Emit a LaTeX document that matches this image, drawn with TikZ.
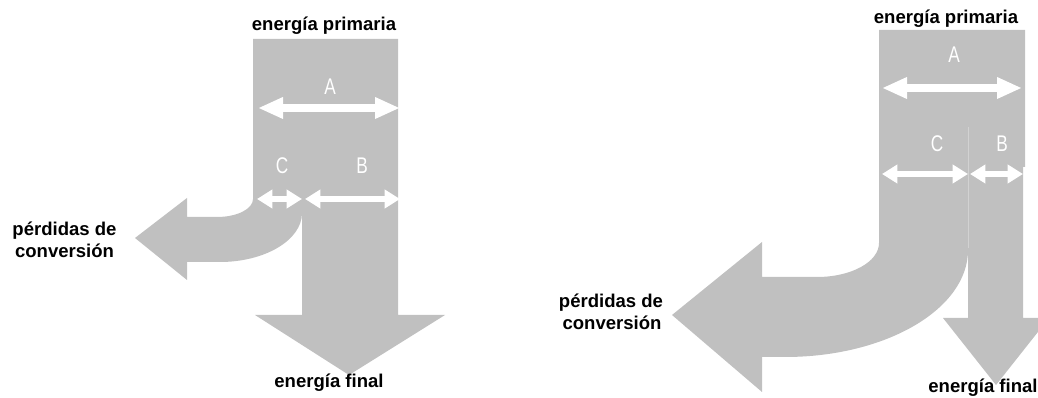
\documentclass[tikz,border=0pt]{standalone}
\usepackage{fontspec}
\usepackage{graphicx}
\setmainfont{Liberation Sans}
\usetikzlibrary{arrows.meta}
\definecolor{flow}{RGB}{192,192,192}
\definecolor{seam}{RGB}{210,210,210}
\begin{document}
\begin{tikzpicture}[x=0.75pt,y=-0.75pt,
  lbl/.style={font=\fontsize{13.9pt}{16pt}\selectfont\bfseries, inner sep=0pt, anchor=base},
  letter/.style={text=white, font=\fontsize{17pt}{20pt}\selectfont, inner sep=0pt},
  bigdbl/.style={draw=white, line width=6pt, {Triangle[length=18.75pt,width=15pt]}-{Triangle[length=18.75pt,width=15pt]}},
  smalldbl/.style={draw=white, line width=4.8pt, {Triangle[length=11.5pt,width=13.5pt]}-{Triangle[length=11.5pt,width=13.5pt]}},
]
\useasboundingbox (0,0) rectangle (1038,398);
\clip (0,0) rectangle (1038,398);

% ---------- left diagram ----------
\fill[flow] (253,39) -- (398,39) -- (398,315) -- (445,315) -- (349,375) -- (255,315) -- (302,315) -- (302,213)
  .. controls (302,240) and (265,262) .. (220,262) -- (187,262) -- (187,280) -- (135,238) -- (187,198) -- (187,217)
  -- (217,217) .. controls (237,217) and (253,209) .. (253,199) -- cycle;

\node[lbl] (ep1) at (324,30.5) {energía primaria};
\node[lbl] (ef1) at (329,388) {energía final};
\node[lbl] (pa1) at (64.5,236) {pérdidas de};
\node[lbl] (pb1) at (64.5,257.5) {conversión};

\node[letter] (A1) at (330,87) {\scalebox{0.76}[1]{A}};
\node[letter] (C1) at (282,166) {\scalebox{0.76}[1]{C}};
\node[letter] (B1) at (362,166) {\scalebox{0.76}[1]{B}};

\coordinate (a1l) at (258,108);
\coordinate (a1r) at (400,108);
\coordinate (c1l) at (257,199);
\coordinate (c1r) at (302,199);
\coordinate (b1l) at (305,199);
\coordinate (b1r) at (400,199);
\draw[bigdbl] (a1l) -- (a1r);
\draw[smalldbl] (c1l) -- (c1r);
\draw[smalldbl] (b1l) -- (b1r);

% ---------- right diagram ----------
\fill[flow] (879,30) -- (1025,30) -- (1025,167) -- (1023,167) -- (1023,318) -- (1049,318) -- (996,385) -- (943,318)
  -- (968,318) -- (968,250) .. controls (968,309) and (886,357) .. (785,357) -- (762,357) -- (762,392) -- (672,315)
  -- (762,242) -- (762,277) -- (817,277) .. controls (851,277) and (879,262) .. (879,243) -- cycle;
\coordinate (s1) at (968,127);
\coordinate (s2) at (968,248);
\draw[seam, line width=0.5pt] (s1) -- (s2);

\node[lbl] (ep2) at (946,23.3) {energía primaria};
\node[lbl] (ef2) at (983,393) {energía final};
\node[lbl] (pa2) at (611,308) {pérdidas de};
\node[lbl] (pb2) at (612,330) {conversión};

\node[letter] (A2) at (954,55) {\scalebox{0.76}[1]{A}};
\node[letter] (C2) at (937,144) {\scalebox{0.76}[1]{C}};
\node[letter] (B2) at (1002,144) {\scalebox{0.76}[1]{B}};

\coordinate (a2l) at (882,88);
\coordinate (a2r) at (1022,88);
\coordinate (c2l) at (882,174);
\coordinate (c2r) at (968,174);
\coordinate (b2l) at (970,174);
\coordinate (b2r) at (1023,174);
\draw[bigdbl] (a2l) -- (a2r);
\draw[smalldbl] (c2l) -- (c2r);
\draw[smalldbl] (b2l) -- (b2r);
\end{tikzpicture}
\end{document}
